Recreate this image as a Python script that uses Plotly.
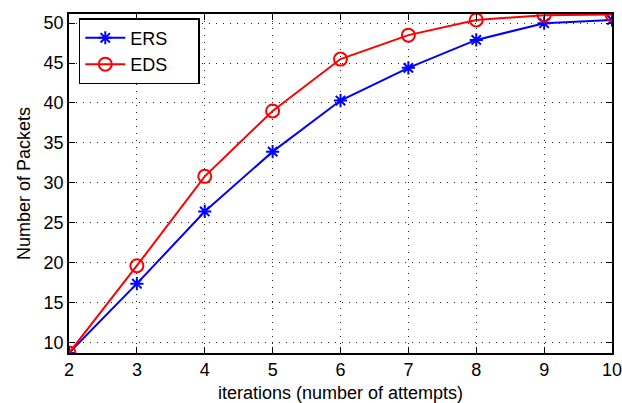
import plotly.graph_objects as go

# iterations (number of attempts)
iterations = [2, 3, 4, 5, 6, 7, 8, 9, 10]
# packets delivered per scheme
ers_packets = [8.66, 17.35, 26.4, 33.9, 40.3, 44.4, 47.9, 50.0, 50.4]
eds_packets = [8.66, 19.6, 30.8, 39.0, 45.5, 48.5, 50.4, 51.0, 51.1]

x_ticks = [2, 3, 4, 5, 6, 7, 8, 9, 10]
y_ticks = [10, 15, 20, 25, 30, 35, 40, 45, 50]

font_family = "Liberation Sans, Arial, Helvetica, sans-serif"
text_font = dict(size=18, color="black", family=font_family)

# trailing non-breaking spaces widen the legend box a little
pad = "&nbsp;" * 5

fig = go.Figure()
fig.add_trace(go.Scatter(
    x=iterations, y=ers_packets, name="ERS" + pad, mode="lines+markers",
    line=dict(color="#0000ff", width=2),
    marker=dict(symbol="asterisk-open", size=11, color="#0000ff",
                line=dict(color="#0000ff", width=2)),
))
fig.add_trace(go.Scatter(
    x=iterations, y=eds_packets, name="EDS" + pad, mode="lines+markers",
    line=dict(color="#ff0000", width=2),
    marker=dict(symbol="circle-open", size=13, color="#ff0000",
                line=dict(color="#ff0000", width=2)),
))

axis_common = dict(
    showline=True, linecolor="black", linewidth=1.5, mirror="allticks",
    ticks="inside", ticklen=6, tickcolor="black", tickwidth=1,
    showgrid=True, gridcolor="#222222", griddash="1px,6px", gridwidth=1,
    zeroline=False, tickfont=text_font, automargin=False,
    ticklabeloverflow="allow",
)

fig.update_xaxes(range=[2, 10], tickvals=x_ticks,
                 title=dict(text="iterations (number of attempts)", standoff=9,
                            font=text_font),
                 **axis_common)
fig.update_yaxes(range=[8.66, 51.15], tickvals=y_ticks,
                 title=dict(text="Number of Packets", standoff=8,
                            font=text_font),
                 **axis_common)

fig.update_layout(
    width=622, height=403,
    margin=dict(l=69, r=10, t=14, b=50),
    plot_bgcolor="white", paper_bgcolor="white",
    font=dict(family=font_family, color="black"),
    legend=dict(x=0.018, y=0.988, xanchor="left", yanchor="top",
                bgcolor="white", bordercolor="black", borderwidth=1.5,
                font=text_font, tracegroupgap=0, itemwidth=40),
    showlegend=True,
)

fig.write_html("out.html")
